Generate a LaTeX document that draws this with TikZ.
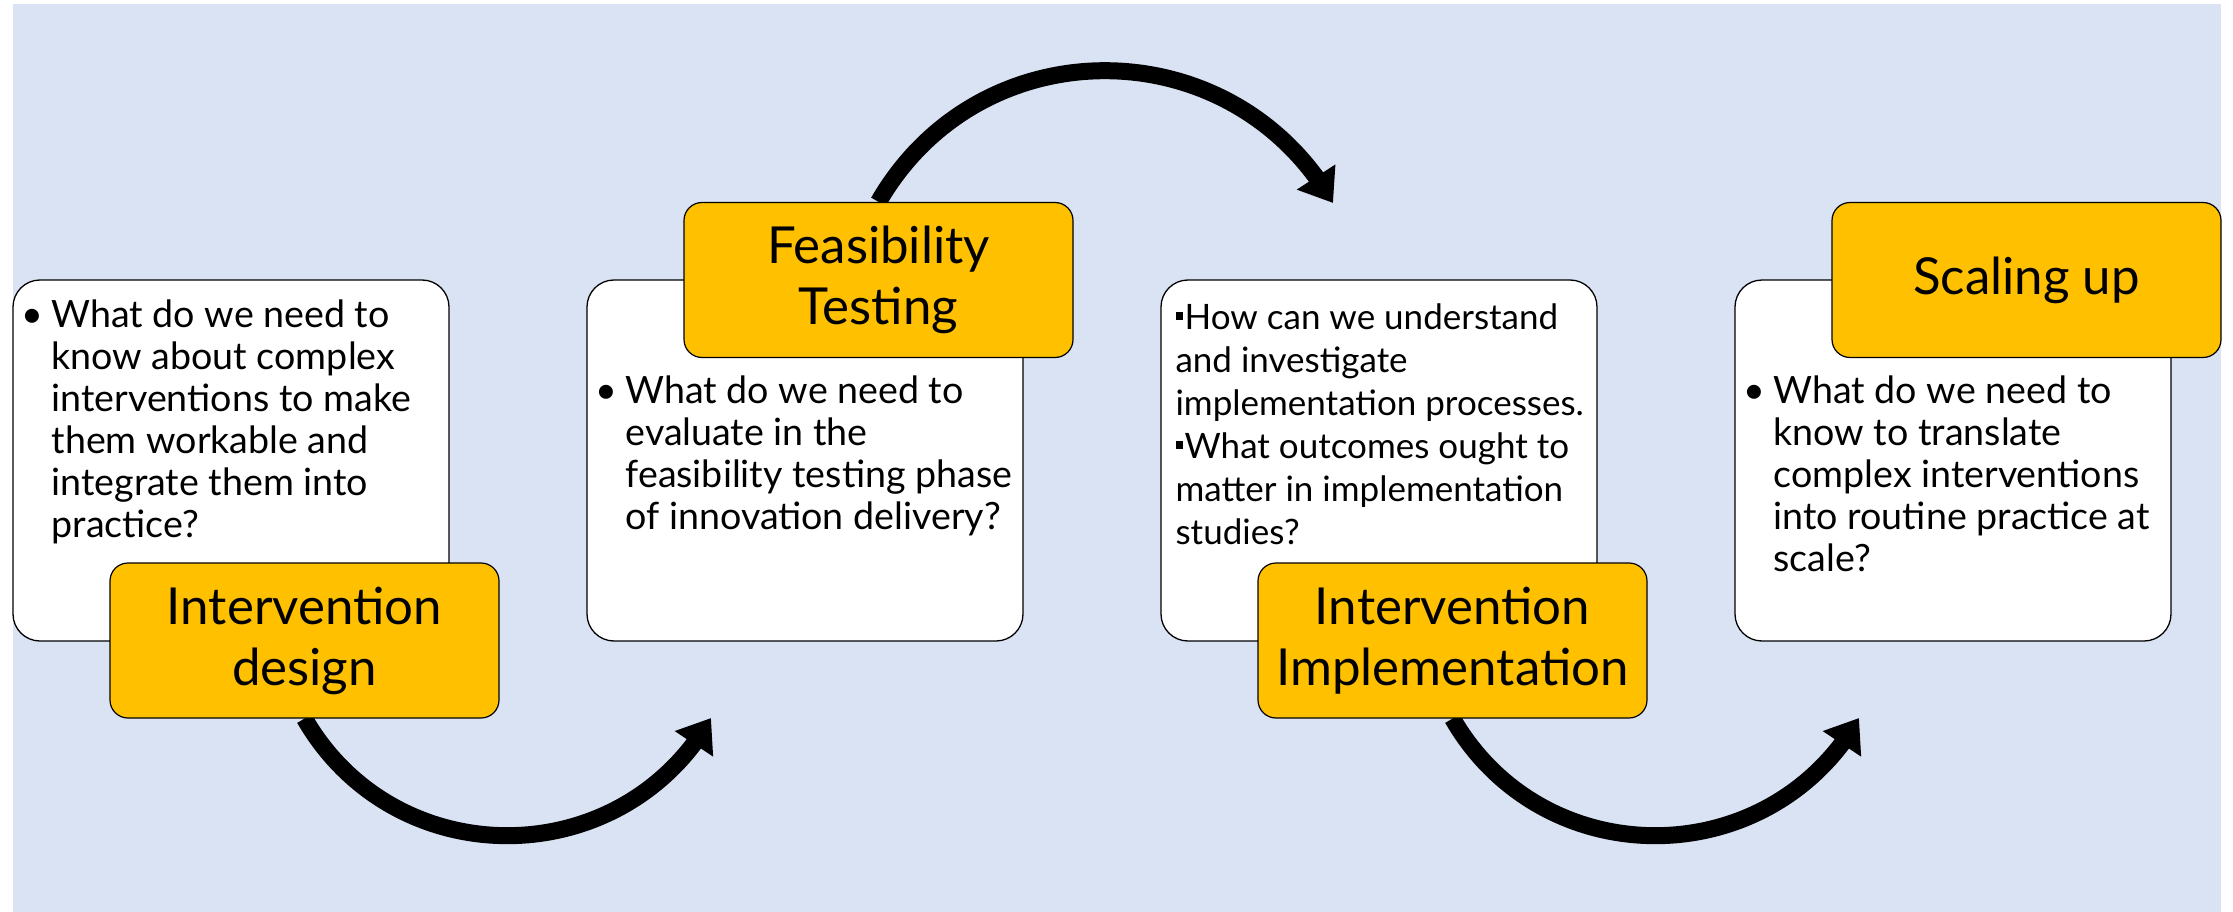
\documentclass[tikz,border=0pt]{standalone}
\usepackage{fontspec}
\setmainfont{Lato}
\usetikzlibrary{arrows.meta,bending,positioning}
\definecolor{bgblue}{HTML}{DAE3F3}
\definecolor{stageyellow}{HTML}{FFC000}
\pgfdeclarelayer{background}
\pgfsetlayers{background,main}
\newcommand{\bul}{\llap{\textbullet\hspace{8pt}}}
\newcommand{\sqmark}{\rule[0.28em]{0.22em}{0.22em}\hspace{0.04em}}

\begin{document}
\begin{tikzpicture}[x=1pt, y=1pt,
    qbox/.style={draw, line width=1.3pt, fill=white, rounded corners=27pt,
      minimum width=436pt, minimum height=361pt, inner sep=0pt},
    stage/.style={draw, line width=1.2pt, fill=stageyellow, rounded corners=18pt,
      minimum width=389pt, minimum height=155pt, inner sep=0pt, align=center,
      font=\fontsize{51}{61}\selectfont},
    qtext/.style={anchor=north west, inner sep=0pt, align=left,
      font=\fontsize{37.6}{42}\selectfont},
    flow/.style={line width=17pt, -{Triangle[length=31pt, width=44pt]}}]
  \useasboundingbox (0,0) rectangle (2233,-912);

  % question boxes
  \node[qbox] (q1) at (231,-460.5) {};
  \node[qbox] (q2) at (805,-460.5) {};
  \node[qbox] (q3) at (1379,-460.5) {};
  \node[qbox] (q4) at (1953,-460.5) {};

  \node[qtext] (t1) at ([shift={(39,-20)}]q1.north west)
    {\bul What do we need to\\know about complex\\interventions to make\\them workable and\\integrate them into\\practice?};
  \node[qtext] (t2) at ([shift={(39,-96)}]q2.north west)
    {\bul What do we need to\\evaluate in the\\feasibility testing phase\\of innovation delivery?};
  \node[qtext, font=\fontsize{35}{43}\selectfont] (t3) at ([shift={(15,-24)}]q3.north west)
    {\sqmark How can we understand\\and investigate\\implementation processes.\\\sqmark What outcomes ought to\\matter in implementation\\studies?};
  \node[qtext] (t4) at ([shift={(39,-96)}]q4.north west)
    {\bul What do we need to\\know to translate\\complex interventions\\into routine practice at\\scale?};

  % stages
  \node[stage] (s1) at (304.5,-640.5) {Intervention\\design};
  \node[stage] (s2) at (878.5,-280) {Feasibility\\Testing};
  \node[stage] (s3) at (1452.5,-640.5) {Intervention\\Implementation};
  \node[stage] (s4) at (2026.5,-280) {Scaling up};

  \coordinate (e1) at (711,-718);
  \coordinate (e2) at (1333,-203);
  \coordinate (e3) at (1859,-718);

  \begin{pgfonlayer}{background}
    \fill[bgblue] (13,-4) rectangle (2221,-912);
    \draw[flow] (s1.south) to[out=-60, in=-120, looseness=1.14] (e1);
    \draw[flow] (s2.north) to[out=60, in=120, looseness=1.14] (e2);
    \draw[flow] (s3.south) to[out=-60, in=-120, looseness=1.14] (e3);
  \end{pgfonlayer}
\end{tikzpicture}
\end{document}
